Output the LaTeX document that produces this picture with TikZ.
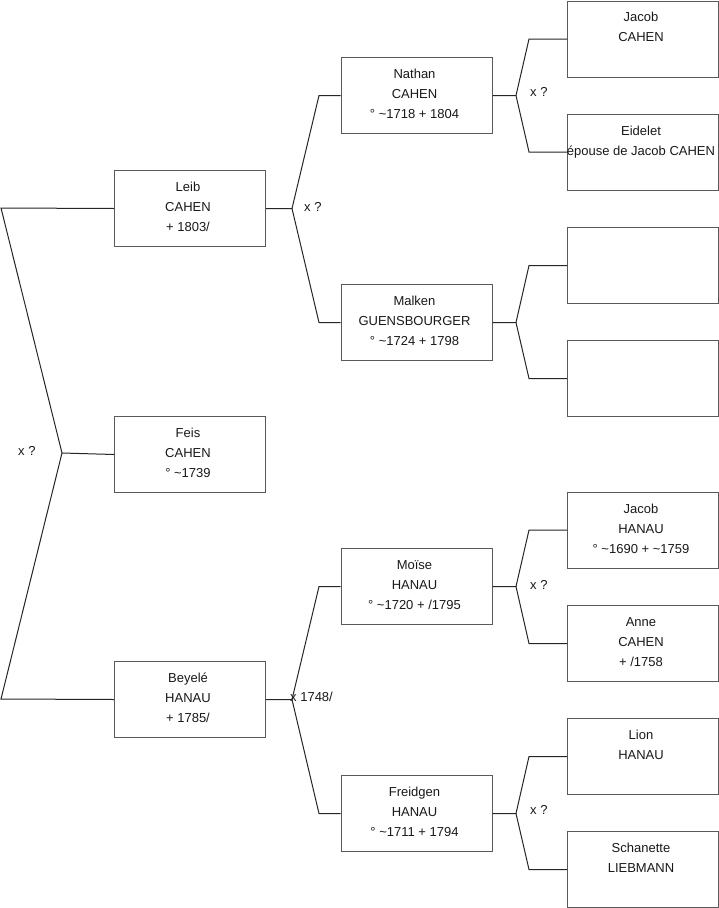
\documentclass[tikz,border=0pt]{standalone}
\usepackage{fontspec}
\setmainfont{Liberation Sans}
\begin{document}
\begin{tikzpicture}[x=1pt,y=-1pt,
  box/.style={draw=black!65, line width=1pt, rectangle, minimum width=151pt, minimum height=76pt, inner sep=0pt, anchor=north west},
  txt/.style={anchor=north, inner sep=0pt, align=center, font=\fontsize{13}{20}\selectfont, text=black!90},
  lbl/.style={anchor=west, inner sep=0pt, font=\fontsize{13}{20}\selectfont, text=black!90},
  conn/.style={draw=black!85, line width=1pt}]
\fill[white] (0,0) rectangle (719,908);
\useasboundingbox (0,0) rectangle (719,908);
% column 1
\node[box] (L1) at (114,170) {};
\node[box] (F1) at (114,416) {};
\node[box] (B1) at (114,661) {};
% column 2
\node[box] (N2) at (340.5,57) {};
\node[box] (M2) at (340.5,284) {};
\node[box] (Mo2) at (340.5,548) {};
\node[box] (Fr2) at (340.5,775) {};
% column 3
\node[box] (JC3) at (567,0.5) {};
\node[box] (E3) at (567,113.5) {};
\node[box] (X3a) at (567,227) {};
\node[box] (X3b) at (567,340) {};
\node[box] (JH3) at (567,491.5) {};
\node[box] (AC3) at (567,605) {};
\node[box] (LH3) at (567,718) {};
\node[box] (SL3) at (567,831) {};
% texts
\tikzset{tpos/.style={xshift=-2pt,yshift=-7.7pt}}
\node[txt] (tL1) at ([tpos]L1.north) {\strut Leib\\CAHEN\\+ 1803/};
\node[txt] (tF1) at ([tpos]F1.north) {\strut Feis\\CAHEN\\° \textasciitilde1739};
\node[txt] (tB1) at ([tpos]B1.north) {\strut Beyelé\\HANAU\\+ 1785/};
\node[txt] (tN2) at ([tpos]N2.north) {\strut Nathan\\CAHEN\\° \textasciitilde1718 + 1804};
\node[txt] (tM2) at ([tpos]M2.north) {\strut Malken\\GUENSBOURGER\\° \textasciitilde1724 + 1798};
\node[txt] (tMo2) at ([tpos]Mo2.north) {\strut Moïse\\HANAU\\° \textasciitilde1720 + /1795};
\node[txt] (tFr2) at ([tpos]Fr2.north) {\strut Freidgen\\HANAU\\° \textasciitilde1711 + 1794};
\node[txt] (tJC3) at ([tpos,yshift=0.5pt]JC3.north) {\strut Jacob\\CAHEN};
\node[txt] (tE3) at ([tpos]E3.north) {\strut Eidelet\\épouse de Jacob CAHEN};
\node[txt] (tJH3) at ([tpos]JH3.north) {\strut Jacob\\HANAU\\° \textasciitilde1690 + \textasciitilde1759};
\node[txt] (tAC3) at ([tpos]AC3.north) {\strut Anne\\CAHEN\\+ /1758};
\node[txt] (tLH3) at ([tpos]LH3.north) {\strut Lion\\HANAU};
\node[txt] (tSL3) at ([tpos]SL3.north) {\strut Schanette\\LIEBMANN};
% connectors, left
\coordinate (j0t) at (1,208);
\coordinate (j0) at (62,453);
\coordinate (j0b) at (1,699);
\draw[conn] (L1.west) -- (j0t) -- (j0) -- (j0b) -- (B1.west);
\draw[conn] (j0) -- (F1.west);
% column 1 -> column 2
\draw[conn] (L1.east) -- ++(26,0) coordinate (jL) -- ([xshift=-21.5pt]N2.west) -- (N2.west);
\draw[conn] (jL) -- ([xshift=-21.5pt]M2.west) -- (M2.west);
\draw[conn] (B1.east) -- ++(26,0) coordinate (jB) -- ([xshift=-21.5pt]Mo2.west) -- (Mo2.west);
\draw[conn] (jB) -- ([xshift=-21.5pt]Fr2.west) -- (Fr2.west);
% column 2 -> column 3
\draw[conn] (N2.east) -- ++(23.5,0) coordinate (jN) -- ([xshift=-38pt]JC3.west) -- (JC3.west);
\draw[conn] (jN) -- ([xshift=-38pt]E3.west) -- (E3.west);
\draw[conn] (M2.east) -- ++(23.5,0) coordinate (jM) -- ([xshift=-38pt]X3a.west) -- (X3a.west);
\draw[conn] (jM) -- ([xshift=-38pt]X3b.west) -- (X3b.west);
\draw[conn] (Mo2.east) -- ++(23.5,0) coordinate (jMo) -- ([xshift=-38pt]JH3.west) -- (JH3.west);
\draw[conn] (jMo) -- ([xshift=-38pt]AC3.west) -- (AC3.west);
\draw[conn] (Fr2.east) -- ++(23.5,0) coordinate (jFr) -- ([xshift=-38pt]LH3.west) -- (LH3.west);
\draw[conn] (jFr) -- ([xshift=-38pt]SL3.west) -- (SL3.west);
% labels
\node[lbl] (x0) at (18,451) {x ?};
\node[lbl] (xL) at (304,207) {x ?};
\node[lbl] (xN) at (530,92) {x ?};
\node[lbl] (xB) at (290,697) {x 1748/};
\node[lbl] (xMo) at (530,585) {x ?};
\node[lbl] (xFr) at (530,810) {x ?};
\end{tikzpicture}
\end{document}
